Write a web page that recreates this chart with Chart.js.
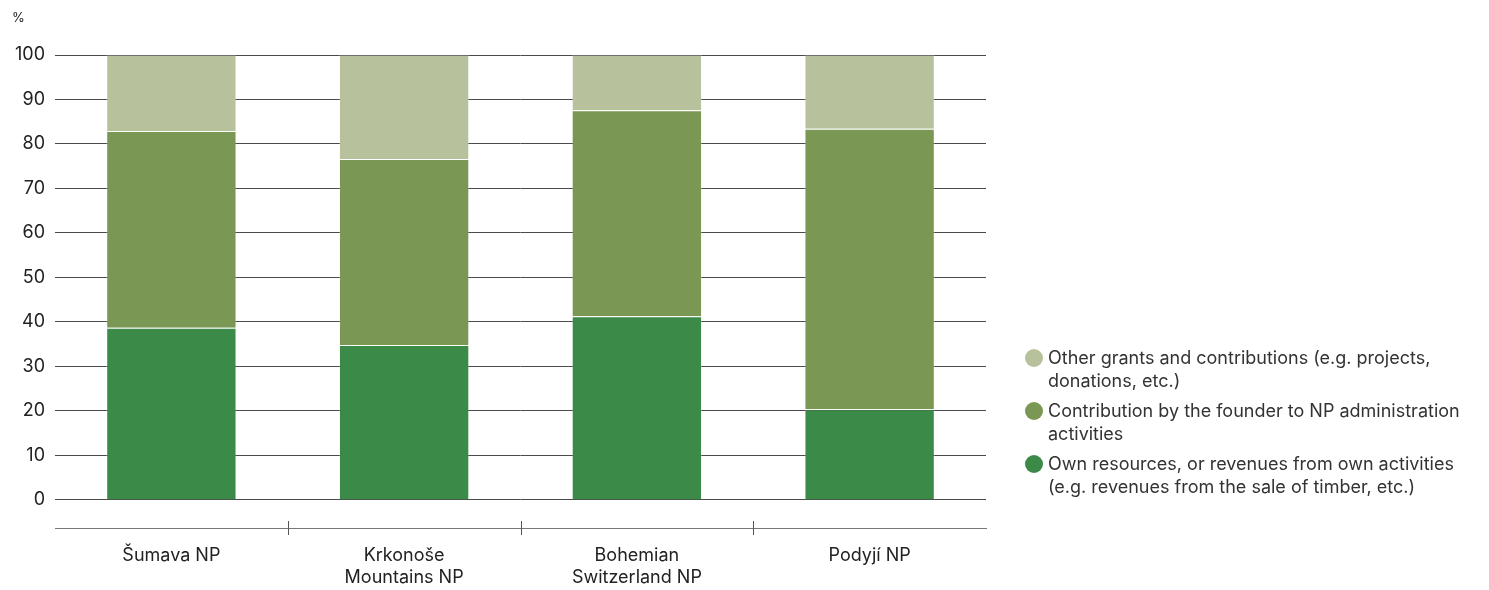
<!DOCTYPE html>
<html>
<head>
<meta charset="utf-8">
<script src="https://cdn.jsdelivr.net/npm/chart.js@4"></script>
<style>
  body { margin: 0; background: #fff; font-family: Inter, "Noto Sans", sans-serif; }
  #wrap { position: relative; width: 1489px; height: 590px; }
  #unit { position: absolute; left: 12px; top: 9px; font-size: 13px; color: #222; }
  #legend { position: absolute; left: 1025px; top: 346px; width: 464px; font-size: 18px; color: #333; }
  .item { position: relative; padding-left: 23px; line-height: 23px; margin-bottom: 7px; }
  .dot { position: absolute; left: 0; top: 3px; width: 18px; height: 18px; border-radius: 50%; }
</style>
</head>
<body>
<div id="wrap">
  <canvas id="chart" width="1489" height="590"></canvas>
  <div id="unit">%</div>
  <div id="legend"></div>
</div>
<script>
const parks = ['Šumava NP', ['Krkonoše', 'Mountains NP'], ['Bohemian', 'Switzerland NP'], 'Podyjí NP'];
const ownResources = [38.7, 34.8, 41.3, 20.4];
const founderContribution = [44.2, 41.8, 46.3, 63.0];
const otherGrants = [17.1, 23.4, 12.4, 16.6];
const seriesNames = [
  'Own resources, or revenues from own activities (e.g. revenues from the sale of timber, etc.)',
  'Contribution by the founder to NP administration activities',
  'Other grants and contributions (e.g. projects, donations, etc.)'
];
const seriesColors = ['#3b8a48', '#7a9753', '#b7c29d'];
const yTicks = [0, 10, 20, 30, 40, 50, 60, 70, 80, 90, 100];

// tick marks crossing the x axis line between categories
const boundaryTicks = {
  id: 'boundaryTicks',
  afterDraw(chart) {
    const x = chart.scales.x, ctx = chart.ctx, b = chart.chartArea.bottom;
    ctx.save();
    ctx.strokeStyle = '#555';
    ctx.lineWidth = 1;
    for (let i = 1; i < parks.length; i++) {
      const px = Math.round((x.getPixelForValue(i - 1) + x.getPixelForValue(i)) / 2) + 0.5;
      ctx.beginPath();
      ctx.moveTo(px, b - 7);
      ctx.lineTo(px, b + 7);
      ctx.stroke();
    }
    ctx.restore();
  }
};

const values = [ownResources, founderContribution, otherGrants];
const chart = new Chart(document.getElementById('chart'), {
  type: 'bar',
  data: {
    labels: parks,
    datasets: values.map((v, i) => ({
      label: seriesNames[i],
      data: v,
      backgroundColor: seriesColors[i],
      borderColor: 'rgba(255,255,255,0.2)',
      borderWidth: 1,
      categoryPercentage: 1,
      barPercentage: 0.56
    }))
  },
  options: {
    responsive: false,
    animation: false,
    layout: { padding: { top: 55, right: 503, left: 0, bottom: 0 } },
    plugins: { legend: { display: false }, tooltip: { enabled: false } },
    scales: {
      x: {
        stacked: true,
        grid: { display: true, drawOnChartArea: false, drawTicks: false },
        border: { display: true, color: '#777', width: 1 },
        ticks: { color: '#222', font: { family: 'Inter', size: 18, lineHeight: 1.25 }, padding: 16, maxRotation: 0 },
        afterFit: s => { s.height = 62; }
      },
      y: {
        stacked: true,
        min: -6.3,
        max: 100,
        afterBuildTicks: s => { s.ticks = yTicks.map(v => ({ value: v })); },
        grid: { color: '#4a4a4a', drawTicks: false },
        border: { display: false },
        ticks: { color: '#222', font: { family: 'Inter', size: 18 }, padding: 10 },
        afterFit: s => { s.width = 55; }
      }
    }
  },
  plugins: [boundaryTicks]
});

// legend, stack order reversed
const legend = document.getElementById('legend');
[2, 1, 0].forEach(i => {
  const d = document.createElement('div');
  d.className = 'item';
  d.innerHTML = `<span class="dot" style="background:${seriesColors[i]}"></span>${seriesNames[i]}`;
  legend.appendChild(d);
});
</script>
</body>
</html>
